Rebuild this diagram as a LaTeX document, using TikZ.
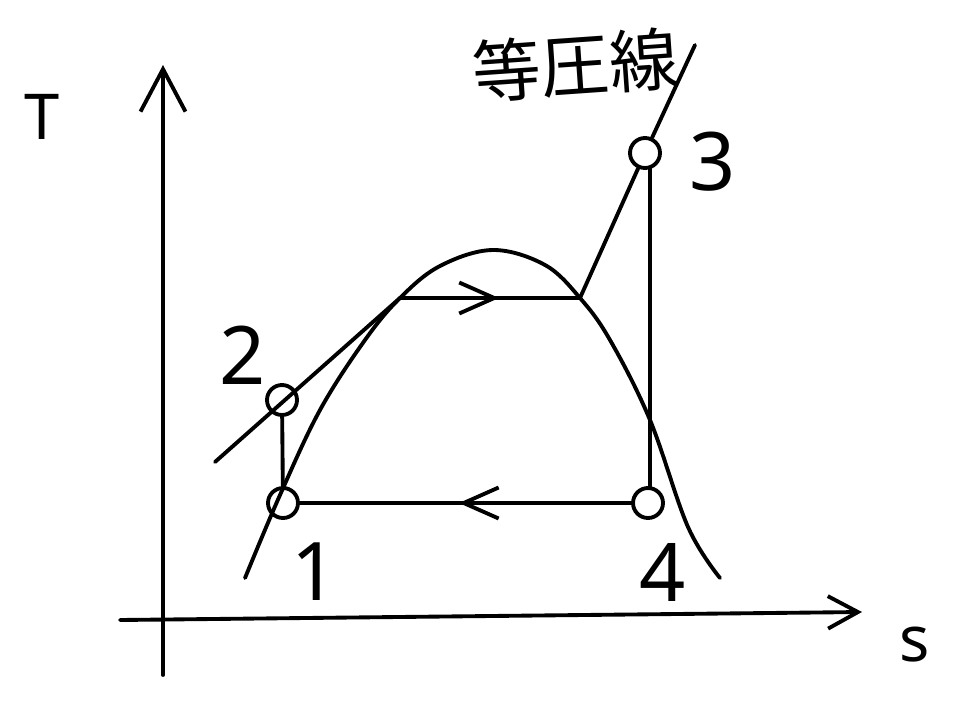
\documentclass[tikz,border=0pt]{standalone}
\usepackage{fontspec}
\setmainfont{Noto Sans}
\newfontfamily\jpfont{Noto Sans CJK JP}
\usetikzlibrary{arrows.meta, decorations.markings}

\tikzset{
  hand/.style={line width=2.2pt, line cap=round, line join=round},
  statept/.style={hand, draw, circle, minimum size=0.6cm, inner sep=0pt},
  biglabel/.style={font=\fontsize{46}{46}\selectfont},
  axislabel/.style={font=\fontsize{36}{36}\selectfont},
  midarrow/.style={postaction={decorate}, decoration={markings,
      mark=at position #1 with {\arrow{Straight Barb[length=0.7cm, width=0.62cm, line width=2.2pt]}}}},
}

\begin{document}
\begin{tikzpicture}[x=0.02cm, y=-0.02cm]
    \useasboundingbox (0,0) rectangle (970,700);

    % Axes
    \coordinate (o1) at (163,675);
    \coordinate (tTop) at (163,65);
    \coordinate (o2) at (120,620);
    \coordinate (sEnd) at (862,612);
    \draw[hand, -{Straight Barb[length=0.85cm, width=0.9cm, line width=2.2pt]}] (o1) -- (tTop);
    \draw[hand, -{Straight Barb[length=0.6cm, width=0.65cm, line width=2.2pt]}] (o2) -- (sEnd);
    \node[axislabel] (lblT) at (42,117) {T};
    \node[axislabel] (lblS) at (915,645) {s};

    % Saturation dome
    \draw[hand] plot[smooth, tension=0.6] coordinates {(245,578) (280,495) (320,410) (365,340)
        (400,298) (440,266) (493,250) (545,265) (580,298) (610,340) (650,420) (688,527) (720,578)};

    % State points
    \node[statept] (p1) at (283,503) {};
    \node[statept] (p2) at (282,400) {};
    \node[statept] (p3) at (645,153) {};
    \node[statept] (p4) at (648,503) {};

    % Isobar
    \coordinate (isoA) at (215,462);
    \coordinate (satL) at (400,298);
    \coordinate (satR) at (580,298);
    \coordinate (isoB) at (695,45);
    \draw[hand] (isoA) -- (satL);
    \draw[hand, midarrow=0.55] (satL) -- (satR);
    \draw[hand] (satR) -- (p3) -- (isoB);

    % Cycle
    \draw[hand] (p1) -- (p2);
    \draw[hand] (p3.-72) -- (p3.-72 |- p4.north);
    \draw[hand, midarrow=0.52] (p4) -- (p1);

    % Labels
    \node[biglabel] (n1) at (315,572) {1};
    \node[biglabel] (n2) at (243,355) {2};
    \node[biglabel] (n3) at (713,162) {3};
    \node[biglabel] (n4) at (663,572) {4};
    \node[font=\jpfont\fontsize{39}{39}\selectfont, rotate=4] (iso) at (575,65) {等圧線};

\end{tikzpicture}
\end{document}
